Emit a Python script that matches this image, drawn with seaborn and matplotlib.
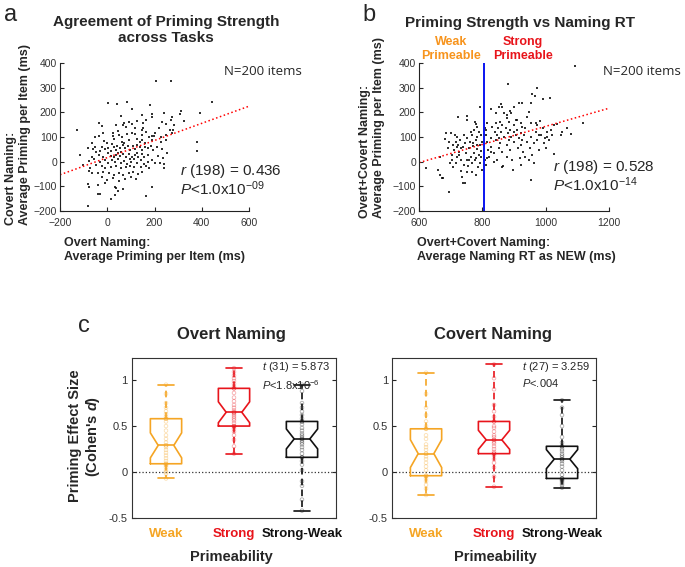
import pandas as pd
import matplotlib.pyplot as plt
import seaborn as sns

# --- panel a: per-item priming, overt vs covert naming (ms) ---
overt_prime = [205, 270, 445, 5, 40, 85, 183, 103, 58, 188,
               188, 241, 312, 310, 393, 275, 269, 149, -35, 73,
               66, 92, 124, 162, 233, 324, 283, 247, -127, -24,
               79, 116, 152, 145, 219, 265, 47, 24, -16, -52,
               -37, -14, 25, 30, 51, 61, 83, 104, 116, 127,
               146, 166, 175, 188, 188, 197, 227, 248, 275, 279,
               227, 248, 92, 149, 159, 70, 0, -66, 61, -83,
               -62, -49, -31, -24, -10, 4, 16, 27, 35, 41,
               54, 65, 75, 86, 96, 107, 117, 125, 138, 148,
               159, 171, 185, 195, 209, 47, 58, 4, 14, 27,
               39, 54, 68, 79, 92, 103, 117, 131, 145, 157,
               173, 124, 96, -20, -35, -66, -55, -117, -78, -102,
               -73, -49, -31, -10, 4, 18, 32, 47, 58, 72,
               83, 100, 114, 128, 142, 157, 171, 188, 202, 223,
               241, 241, 114, 142, 162, 176, 16, -10, -24, 39,
               58, 78, 96, -78, -66, -38, -17, 7, 30, 49,
               68, 92, 110, 131, 148, 100, 25, 1, -24, -10,
               51, 75, 120, -83, -78, -41, 37, 46, 32, 66,
               188, -41, -30, 15, 34, 162, -83, 381, 378, 230,
               255, 237, 216, 18, 138, 204, 106, -52, 39, 152]
covert_prime = [325, 325, 243, 236, 235, 240, 231, 212, 185, 192,
                180, 196, 204, 192, 199, 181, 169, 189, 158, 158,
                150, 161, 165, 168, 162, 163, 150, 153, 127, 145,
                142, 135, 138, 128, 135, 128, 126, 115, 118, 100,
                104, 85, 104, 91, 109, 99, 112, 118, 112, 93,
                107, 122, 100, 104, 88, 104, 99, 108, 118, 128,
                80, 88, 88, 88, 74, 77, 77, 77, 81, 57,
                50, 41, 43, 58, 50, 57, 43, 58, 47, 63,
                55, 66, 54, 63, 47, 63, 53, 68, 58, 47,
                61, 54, 63, 47, 58, 34, 41, 34, 24, 20,
                27, 23, 30, 20, 30, 18, 27, 20, 31, 20,
                27, 36, 11, 18, 27, 20, 11, 27, 3, -14,
                -24, -14, 0, 7, -7, 7, 0, 9, -7, 4,
                -9, 0, 9, -4, 7, -9, 0, 7, -4, -7,
                -9, -26, -20, -23, -18, -27, -23, -27, -18, -18,
                -24, -23, -18, -38, -45, -47, -41, -47, -54, -45,
                -54, -47, -41, -50, -41, -63, -68, -74, -63, -88,
                -77, -72, -72, -92, -101, -95, -108, -118, -101, -112,
                -103, -130, -132, -150, -136, -139, -180, 78, 43, 50,
                36, 14, 23, 72, 81, 118, 153, 58, 149, 158]

# --- panel b: naming RT as NEW vs combined priming (ms) ---
naming_rt = [1094, 881, 974, 958, 965, 990, 1014, 916, 924, 792,
             858, 853, 888, 892, 869, 947, 982, 1119, 724, 750,
             752, 777, 780, 879, 884, 905, 863, 921, 969, 1037,
             1081, 1053, 1021, 1018, 997, 1011, 1025, 954, 695, 621,
             660, 666, 671, 676, 665, 681, 686, 690, 695, 702,
             711, 713, 705, 698, 708, 719, 723, 726, 729, 732,
             734, 737, 740, 745, 738, 744, 747, 750, 753, 755,
             758, 761, 763, 766, 768, 769, 774, 777, 779, 780,
             782, 784, 786, 789, 791, 793, 795, 797, 798, 800,
             721, 716, 703, 716, 742, 763, 774, 742, 758, 726,
             779, 789, 768, 753, 732, 784, 795, 708, 719, 771,
             808, 811, 807, 811, 816, 818, 821, 826, 828, 831,
             837, 839, 842, 845, 847, 849, 853, 856, 860, 863,
             866, 869, 874, 877, 881, 884, 888, 890, 893, 896,
             899, 900, 905, 908, 913, 916, 919, 921, 923, 926,
             929, 933, 936, 942, 947, 950, 955, 958, 963, 969,
             972, 974, 979, 985, 990, 995, 1000, 1005, 856, 842,
             900, 926, 953, 863, 921, 936, 879, 837, 826, 816,
             963, 853, 887, 910, 942, 828, 863, 877, 811, 814,
             805, 979, 1003, 1026, 1047, 1068, 953, 900, 842, 784]
both_prime = [389, 313, 297, 273, 266, 254, 257, 239, 239, 223,
              234, 220, 207, 199, 196, 203, 166, 158, 180, 185,
              169, 161, 151, 176, 162, 169, 149, 155, 158, 151,
              111, 122, 108, 128, 95, 88, 30, -74, -122, -27,
              -34, -54, -65, -68, 20, 91, 115, 54, 81, 118,
              47, 108, 7, -7, -20, 58, 68, 27, 88, 7,
              -36, -61, -85, -85, 58, 74, 36, 7, 95, -18,
              54, 81, 20, -41, 108, 64, 36, 7, 88, -54,
              50, 99, -20, 27, 68, -7, 108, 45, 81, -34,
              20, -7, 27, 81, 108, 122, 128, -14, 7, 41,
              14, 122, -7, -41, 54, 68, 20, 68, 99, 74,
              135, 108, 7, -14, 81, 47, 20, 95, 61, 142,
              34, 122, 88, 7, 108, 135, 95, 74, 122, 41,
              -18, 101, 135, 68, 115, 88, 47, 101, 7, -34,
              122, 81, 108, 128, 54, 95, 14, 68, 117, 88,
              41, 108, 135, 81, 7, 54, 101, 27, 74, 122,
              149, 88, 47, 108, 135, 74, 54, 99, 162, 155,
              149, 142, 155, -20, -14, 20, 20, 0, 41, 14,
              -7, 54, 128, 169, 182, 212, 223, 189, 128, 155,
              34, 108, 122, 149, 108, 135, 236, 223, 196, 142]
rt_split = 805

# --- panel c: per-subject priming effect size (Cohen's d) ---
groups = ['Weak', 'Strong', 'Strong-Weak']
overt_weak = [-0.07, -0.02, 0.00, 0.02, 0.05, 0.07, 0.08, 0.09, 0.09, 0.12,
              0.15, 0.18, 0.21, 0.24, 0.27, 0.29, 0.29, 0.32, 0.36, 0.40,
              0.45, 0.50, 0.55, 0.58, 0.58, 0.60, 0.63, 0.66, 0.70, 0.75,
              0.85, 0.95]
overt_strong = [0.20, 0.28, 0.35, 0.40, 0.44, 0.47, 0.49, 0.50, 0.50, 0.53,
                0.56, 0.58, 0.60, 0.62, 0.64, 0.65, 0.65, 0.67, 0.70, 0.73,
                0.77, 0.81, 0.86, 0.91, 0.91, 0.93, 0.96, 0.99, 1.02, 1.05,
                1.09, 1.13]
overt_diff = [-0.42, -0.30, -0.15, -0.10, 0.02, 0.08, 0.12, 0.16, 0.16, 0.20,
              0.24, 0.27, 0.30, 0.32, 0.34, 0.36, 0.36, 0.38, 0.40, 0.42,
              0.45, 0.48, 0.52, 0.55, 0.55, 0.58, 0.62, 0.66, 0.70, 0.75,
              0.88, 0.95]
covert_weak = [-0.25, -0.18, -0.14, -0.10, -0.07, -0.05, -0.04, -0.04, 0.02, 0.06,
               0.10, 0.14, 0.17, 0.20, 0.20, 0.24, 0.27, 0.30, 0.36, 0.40,
               0.47, 0.47, 0.50, 0.55, 0.62, 0.70, 0.85, 1.08]
covert_strong = [-0.16, -0.05, 0.05, 0.10, 0.14, 0.18, 0.20, 0.20, 0.22, 0.25,
                 0.28, 0.31, 0.33, 0.35, 0.35, 0.38, 0.40, 0.44, 0.48, 0.50,
                 0.55, 0.55, 0.60, 0.66, 0.73, 0.90, 1.02, 1.17]
covert_diff = [-0.17, -0.14, -0.12, -0.10, -0.09, -0.08, -0.07, -0.07, -0.03, 0.02,
               0.06, 0.09, 0.12, 0.14, 0.14, 0.16, 0.18, 0.20, 0.23, 0.25,
               0.28, 0.28, 0.32, 0.38, 0.50, 0.62, 0.70, 0.78]

ORANGE = '#F5A524'
RED = '#E8141B'
BLACK = '#111111'
pal = {'Weak': ORANGE, 'Strong': RED, 'Strong-Weak': BLACK}

sns.set_style('ticks')
plt.rcParams['font.family'] = ['Liberation Sans', 'DejaVu Sans']
plt.rcParams['mathtext.fontset'] = 'custom'
plt.rcParams['mathtext.rm'] = 'Liberation Sans'
plt.rcParams['mathtext.it'] = 'Liberation Sans:italic'
plt.rcParams['mathtext.bf'] = 'Liberation Sans:bold'
plt.rcParams['mathtext.bfit'] = 'Liberation Sans:bold:italic'

fig = plt.figure(figsize=(6.85, 5.67), dpi=100)
ax_a = fig.add_axes([0.0876, 0.6279, 0.2759, 0.261])
ax_b = fig.add_axes([0.6117, 0.6279, 0.2774, 0.261])
ax_c1 = fig.add_axes([0.1927, 0.0864, 0.2978, 0.2822])
ax_c2 = fig.add_axes([0.5723, 0.0864, 0.2978, 0.2822])


def style_scatter(ax, xlim, xticks):
    ax.set_xlim(*xlim)
    ax.set_ylim(-200, 400)
    ax.set_xticks(xticks)
    ax.set_yticks(range(-200, 401, 100))
    ax.tick_params(direction='in', length=3, width=0.8, labelsize=7.5,
                   labelcolor='#333333', pad=2)
    ax.tick_params(axis='x', pad=5)
    for s in ['top', 'right']:
        ax.spines[s].set_visible(False)
    for s in ['left', 'bottom']:
        ax.spines[s].set_linewidth(0.8)
        ax.spines[s].set_color('#222222')
    ax.set_xlabel('')
    ax.set_ylabel('')


# panel a
ax_a.set_xlim(-200, 600)
sns.regplot(x=overt_prime, y=covert_prime, ax=ax_a, ci=None, truncate=False,
            marker='s', scatter_kws=dict(s=4, color='black', linewidths=0),
            line_kws=dict(color='red', ls=':', lw=1.1))
style_scatter(ax_a, (-200, 600), range(-200, 601, 200))
ax_a.text(0.868, 0.94, 'N=200 items', transform=ax_a.transAxes, fontsize=9.5,
          family='Open Sans', va='center', ha='left')
ax_a.text(0.635, 0.21, '$r$ (198) = 0.436\n$P$<1.0x10$^{-09}$',
          transform=ax_a.transAxes, fontsize=11, va='center', linespacing=1.0)

# panel b
ax_b.set_xlim(600, 1200)
sns.regplot(x=naming_rt, y=both_prime, ax=ax_b, ci=None, truncate=False,
            marker='s', scatter_kws=dict(s=4, color='black', linewidths=0),
            line_kws=dict(color='red', ls=':', lw=1.1))
ax_b.axvline(rt_split, color='#0A14F0', lw=1.4)
style_scatter(ax_b, (600, 1200), range(600, 1201, 200))
ax_b.text(0.968, 0.94, 'N=200 items', transform=ax_b.transAxes, fontsize=9.5,
          family='Open Sans', va='center', ha='left')
ax_b.text(0.705, 0.236, '$r$ (198) = 0.528\n$P$<1.0x10$^{-14}$',
          transform=ax_b.transAxes, fontsize=11, va='center', linespacing=1.0)


def draw_box(ax, weak, strong, diff, tstat):
    df = pd.DataFrame({
        'group': ['Weak'] * len(weak) + ['Strong'] * len(strong) + ['Strong-Weak'] * len(diff),
        'value': weak + strong + diff,
    })
    ax.axhline(0, color='#333333', ls=':', lw=0.9, zorder=1)
    sns.boxplot(data=df, x='group', y='value', hue='group', order=groups,
                hue_order=groups, palette=pal, fill=False, notch=True,
                whis=(0, 100), width=0.46, linewidth=1.2, showfliers=False,
                whiskerprops=dict(linestyle=(0, (4, 2.5))), legend=False, ax=ax)
    n0 = len(ax.collections)
    sns.stripplot(data=df, x='group', y='value', hue='group', order=groups,
                  hue_order=groups, palette=pal, jitter=False, size=2.6,
                  legend=False, ax=ax, zorder=4)
    for coll in ax.collections[n0:]:
        fc = coll.get_facecolors().copy()
        if len(fc):
            fc[:, 3] = 0.35
            coll.set_edgecolors(fc)
            coll.set_facecolor('none')
            coll.set_linewidth(0.6)
    ax.set_xlim(-0.5, 2.5)
    ax.set_ylim(-0.5, 1.24)
    ax.set_yticks([-0.5, 0, 0.5, 1])
    ax.set_yticklabels(['-0.5', '0', '0.5', '1'])
    ax.tick_params(axis='y', direction='in', length=3, left=True, right=True,
                   labelsize=8, labelcolor='#333333', pad=3)
    ax.tick_params(axis='x', length=0, pad=7)
    ax.set_xticks(range(3))
    ax.set_xticklabels(groups, fontsize=9.5, fontweight='bold')
    for lab, g in zip(ax.get_xticklabels(), groups):
        lab.set_color(pal[g])
    for s in ax.spines.values():
        s.set_visible(True)
        s.set_linewidth(0.8)
        s.set_color('#333333')
    ax.set_xlabel('')
    ax.set_ylabel('')
    ax.text(0.635, 0.985, tstat, transform=ax.transAxes, fontsize=8,
            va='top', ha='left', linespacing=1.3)


draw_box(ax_c1, overt_weak, overt_strong, overt_diff,
         '$t$ (31) = 5.873\n$P$<1.8x10$^{-6}$')
draw_box(ax_c2, covert_weak, covert_strong, covert_diff,
         '$t$ (27) = 3.259\n$P$<.004')

# titles, panel letters and axis labels
fig.text(4 / 685, 1 - 4 / 567, 'a', fontsize=17, va='top', ha='left')
fig.text(362 / 685, 1 - 4 / 567, 'b', fontsize=17, va='top', ha='left')
fig.text(78 / 685, 1 - 315 / 567, 'c', fontsize=17, va='top', ha='left')

fig.text(166 / 685, 1 - 15 / 567, 'Agreement of Priming Strength\nacross Tasks',
         fontsize=11, fontweight='bold', ha='center', va='top', linespacing=1.15)
fig.text(520 / 685, 1 - 16 / 567, 'Priming Strength vs Naming RT',
         fontsize=11, fontweight='bold', ha='center', va='top')
fig.text(451 / 685, 1 - 36 / 567, 'Weak\nPrimeable', color='#F7941D',
         fontsize=9, fontweight='bold', ha='center', va='top', linespacing=1.2)
fig.text(523 / 685, 1 - 36 / 567, 'Strong\nPrimeable', color=RED,
         fontsize=9, fontweight='bold', ha='center', va='top', linespacing=1.2)

fig.text(18 / 685, 1 - 225 / 567, 'Covert Naming:\nAverage Priming per Item (ms)',
         rotation=90, fontsize=9, fontweight='bold', ha='center', va='bottom',
         multialignment='left')
fig.text(64 / 685, 1 - 237 / 567, 'Overt Naming:\nAverage Priming per Item (ms)',
         fontsize=9, fontweight='bold', ha='left', va='top')
fig.text(372 / 685, 1 - 218 / 567, 'Overt+Covert Naming:\nAverage Priming per Item (ms)',
         rotation=90, fontsize=9, fontweight='bold', ha='center', va='bottom',
         multialignment='left')
fig.text(417 / 685, 1 - 237 / 567, 'Overt+Covert Naming:\nAverage Naming RT as NEW (ms)',
         fontsize=9, fontweight='bold', ha='left', va='top')

fig.text(231 / 685, 1 - 335 / 567, 'Overt Naming', fontsize=12,
         fontweight='bold', ha='center', va='center')
fig.text(493 / 685, 1 - 335 / 567, 'Covert Naming', fontsize=12,
         fontweight='bold', ha='center', va='center')
fig.text(85 / 685, 1 - 436 / 567, "Priming Effect Size\n(Cohen's $\\mathbfit{d}$)",
         rotation=90, fontsize=10.5, fontweight='bold', ha='center', va='center')
fig.text(231 / 685, 1 - 557 / 567, 'Primeability', fontsize=10.5,
         fontweight='bold', ha='center', va='center')
fig.text(495 / 685, 1 - 557 / 567, 'Primeability', fontsize=10.5,
         fontweight='bold', ha='center', va='center')

fig.savefig('out.png', dpi=100)
